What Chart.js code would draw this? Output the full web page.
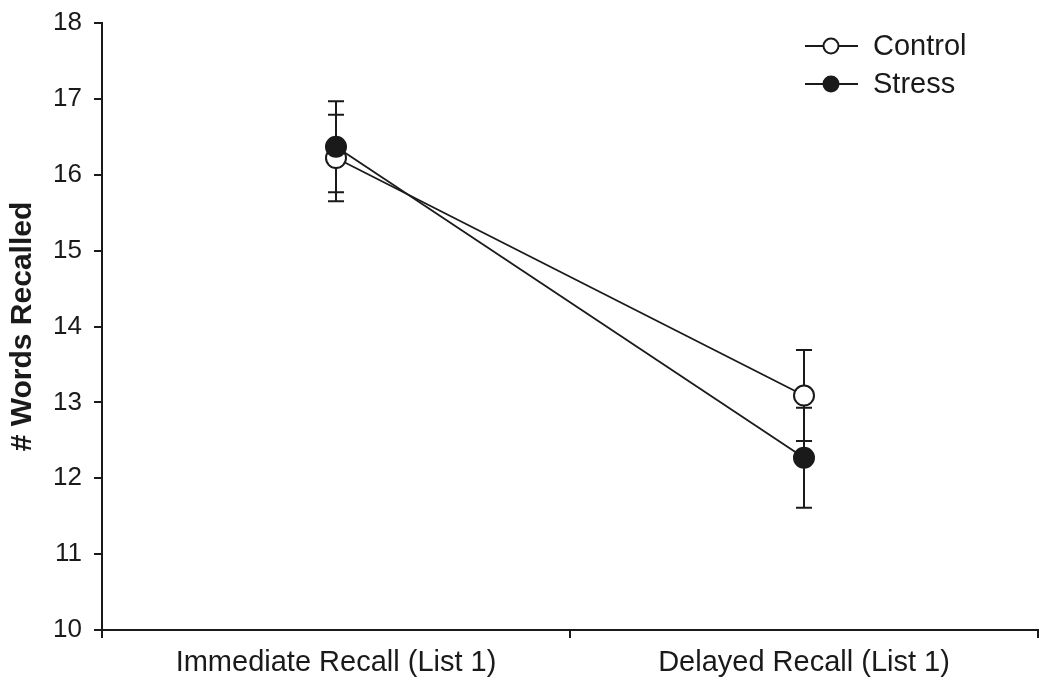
<!DOCTYPE html>
<html>
<head>
<meta charset="utf-8">
<script src="https://cdn.jsdelivr.net/npm/chart.js@4/dist/chart.umd.min.js"></script>
<style>
html,body{margin:0;padding:0;background:#fff;}
#c{display:block;}
</style>
</head>
<body>
<canvas id="c" width="1050" height="687"></canvas>
<script>
const categories = ["Immediate Recall (List 1)", "Delayed Recall (List 1)"];
const controlMeans = [16.22, 13.09];
const controlErr = [0.57, 0.6];
const stressMeans = [16.37, 12.27];
const stressErr = [0.6, 0.66];
const yTicks = [10, 11, 12, 13, 14, 15, 16, 17, 18];

const FONT = "'Liberation Sans', Arial, sans-serif";
const INK = '#1a1a1a';

const errorBarPlugin = {
  id: 'errorBars',
  beforeDatasetsDraw(chart) {
    const ctx = chart.ctx;
    const y = chart.scales.y;
    ctx.save();
    ctx.strokeStyle = INK;
    ctx.lineWidth = 2;
    chart.data.datasets.forEach((ds, di) => {
      const meta = chart.getDatasetMeta(di);
      meta.data.forEach((pt, i) => {
        const m = ds.data[i], e = ds.err[i];
        const yt = y.getPixelForValue(m + e), yb = y.getPixelForValue(m - e);
        const x = pt.x;
        ctx.beginPath();
        ctx.moveTo(x, yt); ctx.lineTo(x, yb);
        ctx.moveTo(x - 8, yt); ctx.lineTo(x + 8, yt);
        ctx.moveTo(x - 8, yb); ctx.lineTo(x + 8, yb);
        ctx.stroke();
      });
    });
    ctx.restore();
  }
};

const legendPlugin = {
  id: 'customLegend',
  afterDraw(chart) {
    const ctx = chart.ctx;
    ctx.save();
    const items = [
      {label: 'Control', fill: '#ffffff', y: 46},
      {label: 'Stress', fill: INK, y: 84}
    ];
    items.forEach(it => {
      ctx.strokeStyle = INK;
      ctx.lineWidth = 2;
      ctx.beginPath();
      ctx.moveTo(805, it.y); ctx.lineTo(858, it.y);
      ctx.stroke();
      ctx.beginPath();
      ctx.arc(831, it.y, 7.5, 0, Math.PI * 2);
      ctx.fillStyle = it.fill;
      ctx.fill();
      ctx.stroke();
      ctx.fillStyle = INK;
      ctx.font = '29px ' + FONT;
      ctx.textBaseline = 'middle';
      ctx.textAlign = 'left';
      ctx.fillText(it.label, 873, it.y + 1);
    });
    ctx.restore();
  }
};

new Chart(document.getElementById('c'), {
  type: 'line',
  data: {
    labels: categories,
    datasets: [
      {
        label: 'Control', data: controlMeans, err: controlErr,
        borderColor: INK, borderWidth: 1.8,
        pointRadius: 10, pointBackgroundColor: '#ffffff', pointBorderColor: INK, pointBorderWidth: 2,
        pointHoverRadius: 10, tension: 0, order: 2
      },
      {
        label: 'Stress', data: stressMeans, err: stressErr,
        borderColor: INK, borderWidth: 1.8,
        pointRadius: 10, pointBackgroundColor: INK, pointBorderColor: INK, pointBorderWidth: 2,
        pointHoverRadius: 10, tension: 0, order: 1
      }
    ]
  },
  options: {
    responsive: false,
    animation: false,
    events: [],
    layout: {padding: {top: 23, right: 9, bottom: 0, left: 0}},
    plugins: {legend: {display: false}, tooltip: {enabled: false}},
    scales: {
      x: {
        offset: true,
        afterFit(scale) { scale.height = 57; scale.paddingLeft = 0; scale.paddingRight = 0; },
        grid: {offset: true, drawOnChartArea: false, drawTicks: true, tickLength: 8, color: INK, lineWidth: 2},
        border: {display: true, color: INK, width: 2},
        ticks: {color: INK, font: {family: FONT, size: 29}, padding: 8, maxRotation: 0}
      },
      y: {
        min: 10, max: 18,
        afterBuildTicks(scale) { scale.ticks = yTicks.map(v => ({value: v})); },
        afterFit(scale) { scale.width = 102; scale.paddingTop = 0; scale.paddingBottom = 0; },
        grid: {drawOnChartArea: false, drawTicks: true, tickLength: 8, color: INK, lineWidth: 2},
        border: {display: true, color: INK, width: 2},
        ticks: {color: INK, font: {family: FONT, size: 26}, padding: 12},
        title: {display: true, text: '# Words Recalled', color: INK, font: {family: FONT, size: 30, weight: 'bold'}, padding: {top: 5, bottom: 4}}
      }
    }
  },
  plugins: [errorBarPlugin, legendPlugin]
});
</script>
</body>
</html>
